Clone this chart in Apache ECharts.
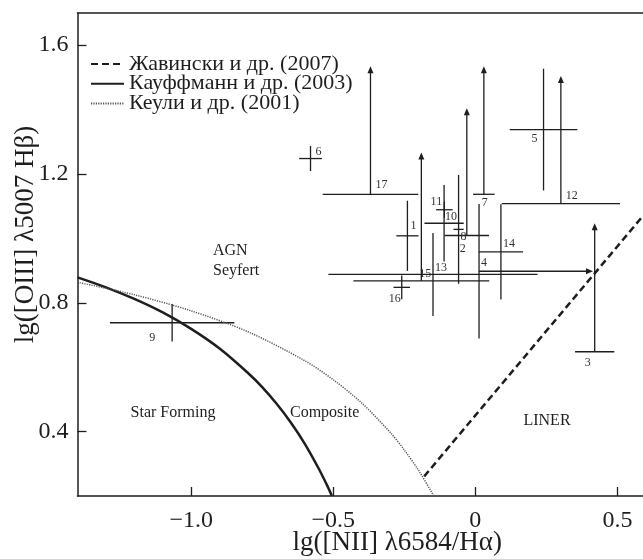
<!DOCTYPE html>
<html><head><meta charset="utf-8">
<script src="https://cdn.jsdelivr.net/npm/echarts@6/dist/echarts.min.js"></script>
<style>html,body{margin:0;padding:0;background:#fff}#c{width:643px;height:559px}</style>
</head><body><div id="c"></div>
<script>
// ---- data ----
const ptLabels = ['1','2','3','4','5','6','7','8','9','10','11','12','13','14','15','16','17'];
const xVals  = [-0.239, -0.030, 0.420, 0.013, 0.240, -0.580, 0.030, -0.059, -1.067, -0.110, -0.109, 0.301, -0.149, 0.090, -0.190, -0.259, -0.369];
const yVals  = [ 1.008,  1.009, 0.648, 0.898, 1.338,  1.248, 1.137,  1.028,  0.738,  1.047,  1.089, 1.108,  0.888, 0.958,  0.868,  0.848,  1.137];
const xErrs  = [ 0.039,  0.078, 0.069, 0,     0.119,  0.040, 0.038,  0.018,  0.219,  0.069,  0.029, 0.208,  0.368, 0.078,  0.239,  0.029,  0.168];
const yErrs  = [ 0.109,  0,     0,     0.209, 0.189,  0.039, 0,      0.169,  0.058,  0.119,  0.025, 0,      0.129, 0.148,  0,      0.037,  0];
const yUpper = [ null,   1.404, 1.047, null,  null,   null,  1.535,  null,   null,   null,   null,  1.504,  null,  null,   1.267,  null,   1.535];
const xRight = [ null,   null,  null,  0.414, null,   null,  null,   null,   null,   null,   null,  null,   null,  null,   null,   null,   null];

const kauffX = [-1.4, -1.3, -1.2, -1.1, -1.0, -0.9, -0.8, -0.75, -0.7, -0.65, -0.6, -0.55, -0.52, -0.505];
const kauffY = [0.879, 0.848, 0.812, 0.770, 0.719, 0.658, 0.582, 0.538, 0.487, 0.429, 0.362, 0.283, 0.230, 0.201];
const kewleyX = [-1.4, -1.2, -1.0, -0.8, -0.6, -0.5, -0.4, -0.3, -0.25, -0.2, -0.15, -0.146];
const kewleyY = [0.864, 0.825, 0.775, 0.710, 0.620, 0.561, 0.489, 0.398, 0.343, 0.280, 0.206, 0.200];
const schawX = [-0.18, 0.59];
const schawY = [0.261, 1.070];

const xTicks = [-1.0, -0.5, 0, 0.5];
const yTicks = [0.4, 0.8, 1.2, 1.6];
const legendNames = ['Жавински и др. (2007)', 'Кауффманн и др. (2003)', 'Кеули и др. (2001)'];

// label placement offsets (px) for point numbers – styling only
const labelOffsets = [[6,-10],[-4,13],[-7,11],[5,-8],[-9,9],[8,-7],[1,9],[5,7],[-20,15],[7,-6],[-8,-8],[11,-8],[8,-7],[8,-8],[4,-7],[-7,11],[11,-9]];

const FONT = '"Liberation Serif", "Times New Roman", serif';
const INK = '#1e1e1e';

const chart = echarts.init(document.getElementById('c'), null, {renderer:'canvas'});

function pairs(xs, ys){ return xs.map((x,i)=>[x, ys[i]]); }

function renderItem(params, api){
  const i = params.dataIndex;
  const x = xVals[i], y = yVals[i];
  const c = api.coord([x, y]);
  const st = {stroke: INK, lineWidth: 1.3};
  const ch = [];
  const line = (p, q) => ch.push({type:'line', shape:{x1:p[0], y1:p[1], x2:q[0], y2:q[1]}, style:st});
  if (xErrs[i] > 0) line(api.coord([x - xErrs[i], y]), api.coord([x + xErrs[i], y]));
  if (yErrs[i] > 0) line(api.coord([x, y - yErrs[i]]), api.coord([x, y + yErrs[i]]));
  if (yUpper[i] != null){
    const t = api.coord([x, yUpper[i]]);
    line(c, [t[0], t[1] + 5]);
    ch.push({type:'polygon', shape:{points:[[t[0], t[1]], [t[0]-3, t[1]+7], [t[0]+3, t[1]+7]]}, style:{fill: INK}});
  }
  if (xRight[i] != null){
    const t = api.coord([xRight[i], y]);
    line(c, [t[0] - 5, t[1]]);
    ch.push({type:'polygon', shape:{points:[[t[0], t[1]], [t[0]-7, t[1]-3], [t[0]-7, t[1]+3]]}, style:{fill: INK}});
  }
  const o = labelOffsets[i];
  ch.push({type:'text', x: c[0] + o[0], y: c[1] + o[1],
    style:{text: ptLabels[i], fontSize: 12, fontFamily: FONT, fill: '#333', align:'center', verticalAlign:'middle'}});
  return {type:'group', children: ch};
}

const axisLineStyle = {color: INK, width: 1.5};

const option = {
  animation: false,
  backgroundColor: '#fff',
  grid: {left: 77.5, top: 13, right: 0, bottom: 63, containLabel: false, outerBoundsMode: 'none'},
  legend: {
    data: legendNames,
    orient: 'vertical', left: 90, top: 53, padding: 0,
    itemWidth: 33, itemHeight: 14, itemGap: -2.3,
    itemStyle: {opacity: 0},
    textStyle: {fontFamily: FONT, fontSize: 22, color: INK, lineHeight: 19.5}
  },
  xAxis: [{
    type: 'value', min: -1.4, max: 0.59,
    position: 'bottom',
    axisLine: {show: true, onZero: false, lineStyle: axisLineStyle},
    axisTick: {show: true, inside: true, length: 9, lineStyle: {color: INK, width: 1.3}, customValues: xTicks},
    axisLabel: {show: true, customValues: xTicks, margin: 13, fontFamily: FONT, fontSize: 24, color: INK,
      formatter: v => v === 0 ? '0' : (v < 0 ? '\u2212' + Math.abs(v).toFixed(1) : v.toFixed(1))},
    splitLine: {show: false},
    name: 'lg([NII] \u03bb6584/H\u03b1)', nameLocation: 'middle', nameGap: 33, nameMoveOverlap: false,
    nameTextStyle: {fontFamily: FONT, fontSize: 27, color: INK, padding: [0,0,0,74]}
  },{
    type: 'value', min: -1.4, max: 0.59, position: 'top',
    axisLine: {show: true, onZero: false, lineStyle: axisLineStyle},
    axisTick: {show: false}, axisLabel: {show: false}, splitLine: {show: false}
  }],
  yAxis: {
    type: 'value', min: 0.2, max: 1.7,
    axisLine: {show: true, onZero: false, lineStyle: axisLineStyle},
    axisTick: {show: true, inside: true, length: 9, lineStyle: {color: INK, width: 1.3}, customValues: yTicks},
    axisLabel: {show: true, customValues: yTicks, margin: 9, fontFamily: FONT, fontSize: 24, color: INK,
      formatter: v => v.toFixed(1)},
    splitLine: {show: false},
    name: 'lg([OIII] \u03bb5007 H\u03b2)', nameLocation: 'middle', nameGap: 38, nameMoveOverlap: false,
    nameTextStyle: {fontFamily: FONT, fontSize: 27, color: INK, padding: [0,0,0,40]}
  },
  graphic: [
    {type:'text', x: 213, y: 251, style:{text:'AGN', fontSize:16, fontFamily:FONT, fill:INK, align:'left', verticalAlign:'middle'}},
    {type:'text', x: 213, y: 271, style:{text:'Seyfert', fontSize:16, fontFamily:FONT, fill:INK, align:'left', verticalAlign:'middle'}},
    {type:'text', x: 173, y: 413, style:{text:'Star Forming', fontSize:16, fontFamily:FONT, fill:INK, align:'center', verticalAlign:'middle'}},
    {type:'text', x: 290, y: 413, style:{text:'Composite', fontSize:16, fontFamily:FONT, fill:INK, align:'left', verticalAlign:'middle'}},
    {type:'text', x: 547, y: 421, style:{text:'LINER', fontSize:16, fontFamily:FONT, fill:INK, align:'center', verticalAlign:'middle'}}
  ],
  series: [
    {name: legendNames[0], type:'line', data: pairs(schawX, schawY), symbol:'none', silent:true,
      lineStyle:{color: INK, width: 2.5, type: [7,4]}, itemStyle:{color: INK}, clip: true},
    {name: legendNames[1], type:'line', data: pairs(kauffX, kauffY), symbol:'none', smooth: 0.3, silent:true,
      lineStyle:{color: INK, width: 2.5, type: 'solid'}, itemStyle:{color: INK}, clip: true},
    {name: legendNames[2], type:'line', data: pairs(kewleyX, kewleyY), symbol:'none', smooth: 0.3, silent:true,
      lineStyle:{color: '#555', width: 1.5, type: [1.2,1.2]}, itemStyle:{color: '#555'}, clip: true},
    {name: 'points', type:'custom', renderItem: renderItem, data: pairs(xVals, yVals), silent: true, clip: false}
  ]
};
chart.setOption(option);
</script>
</body></html>
